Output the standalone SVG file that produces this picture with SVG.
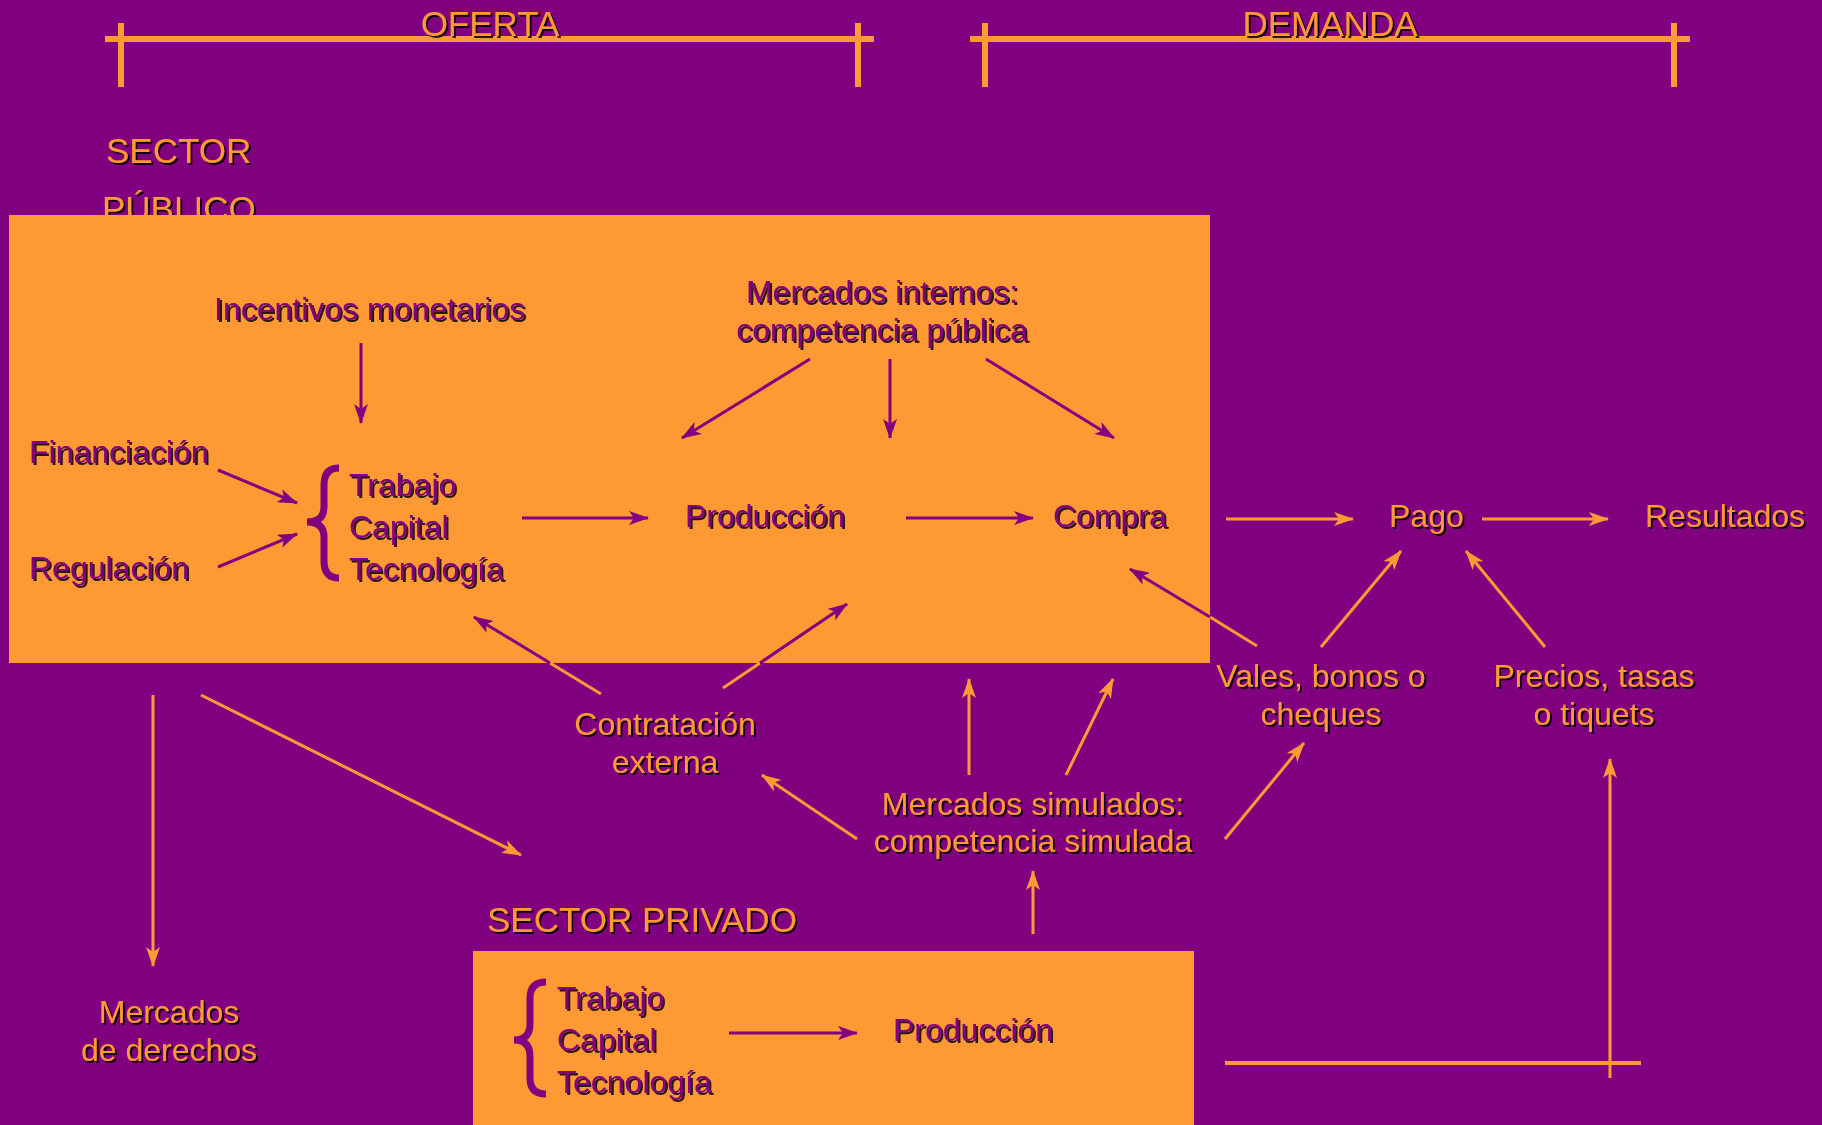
<svg xmlns="http://www.w3.org/2000/svg" width="1822" height="1125" viewBox="0 0 1822 1125">
<defs>
<filter id="sh" x="-5%" y="-20%" width="110%" height="140%">
<feDropShadow dx="2" dy="2" stdDeviation="0.4" flood-color="#000" flood-opacity="0.85"/>
</filter>
<marker id="ap" viewBox="0 0 20 14" refX="19" refY="7" markerWidth="20" markerHeight="14" markerUnits="userSpaceOnUse" orient="auto">
<path d="M0,0 L20,7 L0,14 L5,7 z" fill="#800080"/>
</marker>
<marker id="ao" viewBox="0 0 20 14" refX="19" refY="7" markerWidth="20" markerHeight="14" markerUnits="userSpaceOnUse" orient="auto">
<path d="M0,0 L20,7 L0,14 L5,7 z" fill="#FF9933"/>
</marker>
</defs>
<style>
text{font-family:"Liberation Sans",Arial,sans-serif;font-size:32px;filter:url(#sh)}
.p{fill:#800080}
.o{fill:#FF9933}
.big{font-size:35px}
.m{text-anchor:middle}
.lp{stroke:#800080;stroke-width:3;fill:none}
.lo{stroke:#FF9933;stroke-width:3;fill:none}
.hp{marker-end:url(#ap)}
.ho{marker-end:url(#ao)}
.br{stroke:#800080;stroke-width:7;fill:none;stroke-linecap:butt}
</style>
<rect x="0" y="0" width="1822" height="1125" fill="#800080"/>

<g id="oferta">
<rect x="105" y="36" width="769" height="6" fill="#FF9933"/>
<rect x="118" y="23" width="6" height="64" fill="#FF9933"/>
<rect x="855" y="23" width="6" height="64" fill="#FF9933"/>
<text class="o big m" x="490" y="36">OFERTA</text>
</g>
<g id="demanda">
<rect x="970" y="36" width="720" height="6" fill="#FF9933"/>
<rect x="982" y="23" width="6" height="64" fill="#FF9933"/>
<rect x="1671" y="23" width="6" height="64" fill="#FF9933"/>
<text class="o big m" x="1330" y="36">DEMANDA</text>
</g>

<g id="sector-publico-label">
<text class="o big" x="106" y="163">SECTOR</text>
<text class="o big" x="102" y="221">PÚBLICO</text>
</g>

<g id="sector-publico">
<rect x="9" y="215" width="1201" height="448" fill="#FF9933"/>
</g>

<g id="sector-privado">
<rect x="473" y="951" width="721" height="174" fill="#FF9933"/>
<text class="o big" x="487" y="932">SECTOR PRIVADO</text>
</g>

<g id="incentivos"><text class="p" x="214" y="320">Incentivos monetarios</text></g>
<g id="mercados-internos">
<text class="p m" x="882" y="303">Mercados internos:</text>
<text class="p m" x="882" y="341">competencia pública</text>
</g>
<g id="financiacion"><text class="p" x="29" y="463">Financiación</text></g>
<g id="regulacion"><text class="p" x="29" y="579">Regulación</text></g>
<g id="factores-publico">
<path class="br" d="M339,468 Q324,468 324,485 L324,507 Q324,522 307,522 Q324,522 324,537 L324,561 Q324,578 339,578"/>
<text class="p" x="349" y="496">Trabajo</text>
<text class="p" x="349" y="538">Capital</text>
<text class="p" x="349" y="580">Tecnología</text>
</g>
<g id="produccion-publica"><text class="p" x="685" y="527">Producción</text></g>
<g id="compra"><text class="p" x="1053" y="527">Compra</text></g>
<g id="pago"><text class="o" x="1389" y="527">Pago</text></g>
<g id="resultados"><text class="o" x="1645" y="527">Resultados</text></g>
<g id="vales">
<text class="o m" x="1321" y="687">Vales, bonos o</text>
<text class="o m" x="1321" y="725">cheques</text>
</g>
<g id="precios">
<text class="o m" x="1594" y="687">Precios, tasas</text>
<text class="o m" x="1594" y="725">o tiquets</text>
</g>
<g id="contratacion">
<text class="o m" x="665" y="735">Contratación</text>
<text class="o m" x="665" y="773">externa</text>
</g>
<g id="mercados-simulados">
<text class="o m" x="1033" y="815">Mercados simulados:</text>
<text class="o m" x="1033" y="852">competencia simulada</text>
</g>
<g id="mercados-derechos">
<text class="o m" x="169" y="1023">Mercados</text>
<text class="o m" x="169" y="1061">de derechos</text>
</g>
<g id="factores-privado">
<path class="br" d="M546,982 Q530,982 530,998 L530,1024 Q530,1040 514,1040 Q530,1040 530,1056 L530,1078 Q530,1094 546,1094"/>
<text class="p" x="557" y="1009">Trabajo</text>
<text class="p" x="557" y="1051">Capital</text>
<text class="p" x="557" y="1093">Tecnología</text>
</g>
<g id="produccion-privada"><text class="p" x="893" y="1041">Producción</text></g>

<g id="connectors">
<line class="lp hp" x1="361" y1="343" x2="361" y2="423"/>
<line class="lp hp" x1="218" y1="470" x2="297" y2="503"/>
<line class="lp hp" x1="218" y1="567" x2="297" y2="534"/>
<line class="lp hp" x1="522" y1="518" x2="648" y2="518"/>
<line class="lp hp" x1="906" y1="518" x2="1033" y2="518"/>
<line class="lp hp" x1="810" y1="359" x2="682" y2="438"/>
<line class="lp hp" x1="890" y1="359" x2="890" y2="438"/>
<line class="lp hp" x1="986" y1="359" x2="1114" y2="438"/>
<line class="lo" x1="1257" y1="646" x2="1210" y2="617"/>
<line class="lp hp" x1="1210" y1="617" x2="1130" y2="569"/>
<line class="lo" x1="601" y1="694" x2="550" y2="663"/>
<line class="lp hp" x1="550" y1="663" x2="474" y2="617"/>
<line class="lo" x1="723" y1="688" x2="760" y2="663"/>
<line class="lp hp" x1="760" y1="663" x2="847" y2="604"/>
<line class="lp hp" x1="729" y1="1033" x2="857" y2="1033"/>
<line class="lo ho" x1="1226" y1="519" x2="1353" y2="519"/>
<line class="lo ho" x1="1482" y1="519" x2="1608" y2="519"/>
<line class="lo ho" x1="1321" y1="647" x2="1401" y2="551"/>
<line class="lo ho" x1="1545" y1="647" x2="1466" y2="551"/>
<line class="lo ho" x1="1225" y1="839" x2="1304" y2="743"/>
<line class="lo ho" x1="1610" y1="1078" x2="1610" y2="759"/>
<line class="lo" style="stroke-width:4" x1="1225" y1="1063" x2="1641" y2="1063"/>
<line class="lo ho" x1="969" y1="775" x2="969" y2="679"/>
<line class="lo ho" x1="1066" y1="775" x2="1113" y2="679"/>
<line class="lo ho" x1="857" y1="839" x2="762" y2="775"/>
<line class="lo ho" x1="1033" y1="934" x2="1033" y2="871"/>
<line class="lo ho" x1="153" y1="695" x2="153" y2="966"/>
<line class="lo ho" x1="201" y1="695" x2="521" y2="855"/>
</g>
</svg>
